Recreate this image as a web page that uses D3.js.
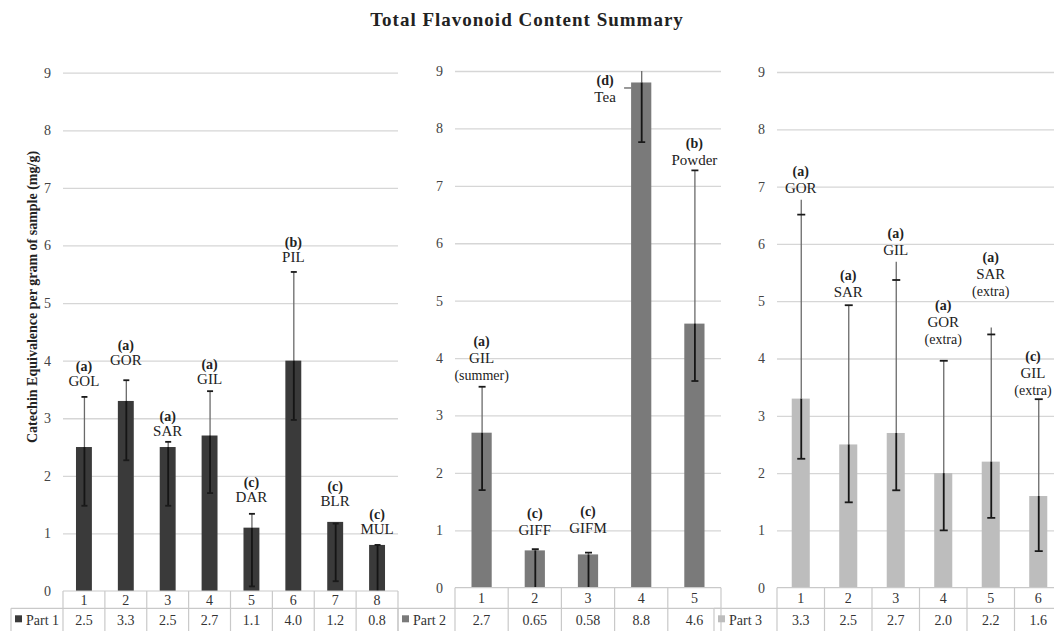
<!DOCTYPE html>
<html>
<head>
<meta charset="utf-8">
<script src="https://cdn.jsdelivr.net/npm/d3@7"></script>
<style>
  html, body { margin: 0; padding: 0; background: #fff; }
  svg { display: block; font-family: "Liberation Serif", "DejaVu Serif", serif; }
</style>
</head>
<body>
<svg id="chart" width="1054" height="631"></svg>
<script>
// ---- data -------------------------------------------------------------
const yTicks = [0, 1, 2, 3, 4, 5, 6, 7, 8, 9];

const part1Samples = ["1", "2", "3", "4", "5", "6", "7", "8"];
const part1Values  = [2.5, 3.3, 2.5, 2.7, 1.1, 4.0, 1.2, 0.8];
const part1ErrLow  = [1.48, 2.27, 1.48, 1.70, 0.08, 2.97, 0.17, 0.0];
const part1ErrHigh = [3.37, 3.66, 2.59, 3.47, 1.34, 5.54, 1.17, 0.8];
const part1Letters = ["(a)", "(a)", "(a)", "(a)", "(c)", "(b)", "(c)", "(c)"];
const part1Names   = [["GOL"], ["GOR"], ["SAR"], ["GIL"], ["DAR"], ["PIL"], ["BLR"], ["MUL"]];

const part2Samples = ["1", "2", "3", "4", "5"];
const part2Values  = [2.7, 0.65, 0.58, 8.8, 4.6];
const part2Labels  = ["2.7", "0.65", "0.58", "8.8", "4.6"];
const part2ErrLow  = [1.70, 0.0, 0.0, 7.76, 3.60];
const part2ErrHigh = [3.50, 0.67, 0.61, 9.8, 7.27];
const part2Letters = ["(a)", "(c)", "(c)", "(d)", "(b)"];
const part2Names   = [["GIL", "(summer)"], ["GIFF"], ["GIFM"], ["Tea"], ["Powder"]];

const part3Samples = ["1", "2", "3", "4", "5", "6"];
const part3Values  = [3.3, 2.5, 2.7, 2.0, 2.2, 1.6];
const part3ErrLow  = [2.25, 1.49, 1.70, 1.00, 1.22, 0.64];
const part3ErrHigh = [6.51, 4.93, 5.37, 3.96, 4.42, 3.29];
const part3Reach   = [6.77, 4.93, 5.69, 3.96, 4.54, 3.29];
const part3Letters = ["(a)", "(a)", "(a)", "(a)", "(a)", "(c)"];
const part3Names   = [["GOR"], ["SAR"], ["GIL"], ["GOR", "(extra)"], ["SAR", "(extra)"], ["GIL", "(extra)"]];

// ---- layout -----------------------------------------------------------
const panels = [
  {
    series: "Part 1", color: "#3a3a3a",
    samples: part1Samples, values: part1Values,
    labels: part1Values.map(v => v.toFixed(1)),
    low: part1ErrLow, high: part1ErrHigh, reach: part1ErrHigh,
    letters: part1Letters, names: part1Names,
    x0: 63, x1: 398, yTop: 72.7, yZero: 591, row1: 17.3, legendLeft: 11, tickRight: 51,
    lineH: 15, gaps: [10.5, 15.5, 6, 7.5, 12, 10, 16, 10.5], side: [], cap: 3
  },
  {
    series: "Part 2", color: "#7a7a7a",
    samples: part2Samples, values: part2Values, labels: part2Labels,
    low: part2ErrLow, high: part2ErrHigh, reach: part2ErrHigh,
    letters: part2Letters, names: part2Names,
    x0: 455, x1: 721, yTop: 71, yZero: 587.7, row1: 20.6, legendLeft: 398, tickRight: 443,
    lineH: 17, gaps: [7, 14, 20, 0, 5.5], side: [null, null, null, "left", null], cap: 3.5
  },
  {
    series: "Part 3", color: "#bdbdbd",
    samples: part3Samples, values: part3Values,
    labels: part3Values.map(v => v.toFixed(1)),
    low: part3ErrLow, high: part3ErrHigh, reach: part3Reach,
    letters: part3Letters, names: part3Names,
    x0: 777, x1: 1062, yTop: 72, yZero: 587.7, row1: 20.6, legendLeft: 714, tickRight: 765,
    lineH: 17, gaps: [6.5, 8, 7, 16.5, 32, 4.5], side: [], cap: 4
  }
];

const W = 1054, H = 631;
const svg = d3.select("#chart");
svg.append("rect").attr("width", W).attr("height", H).attr("fill", "#fff");

// chart title
svg.append("text")
  .attr("x", 527).attr("y", 26)
  .attr("text-anchor", "middle")
  .attr("font-size", 19).attr("font-weight", "bold").attr("fill", "#222")
  .attr("letter-spacing", 1)
  .text("Total Flavonoid Content Summary");

// y axis title (first panel only)
svg.append("text")
  .attr("transform", "translate(37,297) rotate(-90)")
  .attr("text-anchor", "middle")
  .attr("font-size", 14).attr("font-weight", "bold").attr("fill", "#222")
  .text("Catechin Equivalence per gram of sample (mg/g)");

const gridColor = "#d6d6d6";
const tableColor = "#c9c9c9";
const tableBottom = 640;

panels.forEach((p, pi) => {
  const g = svg.append("g");
  const y = d3.scaleLinear().domain([0, 9]).range([p.yZero, p.yTop]);
  const x = d3.scaleBand().domain(p.samples).range([p.x0, p.x1])
    .paddingInner(0.62).paddingOuter(0.31);
  const step = x.step();

  const clipId = "clip" + pi;
  svg.append("clipPath").attr("id", clipId)
    .append("rect").attr("x", p.x0 - 60).attr("y", p.yTop)
    .attr("width", p.x1 - p.x0 + 120).attr("height", p.yZero - p.yTop);

  // gridlines and tick labels via d3 axis
  const axis = d3.axisLeft(y).tickValues(yTicks).tickSize(-(p.x1 - p.x0)).tickPadding(p.x0 - p.tickRight);
  const ag = g.append("g").attr("transform", `translate(${p.x0},0)`).call(axis);
  ag.select(".domain").remove();
  ag.selectAll(".tick line").attr("stroke", gridColor).attr("stroke-width", 1.3)
    .filter(d => d === 0).remove();
  ag.selectAll(".tick text")
    .attr("font-family", "Liberation Serif, serif")
    .attr("font-size", 14).attr("fill", "#444");

  // bars
  g.selectAll("rect.bar").data(p.values).join("rect")
    .attr("class", "bar")
    .attr("x", (d, i) => x(p.samples[i]))
    .attr("y", d => y(d))
    .attr("width", x.bandwidth())
    .attr("height", d => y(0) - y(d))
    .attr("fill", p.color);

  // error bars
  const eg = g.append("g").attr("clip-path", `url(#${clipId})`);
  p.values.forEach((v, i) => {
    const cx = x(p.samples[i]) + x.bandwidth() / 2 + 0.5;
    const top = Math.max(p.high[i], p.reach[i]);
    // whisker above the bar
    if (top > v) {
      eg.append("line").attr("x1", cx).attr("x2", cx)
        .attr("y1", y(v)).attr("y2", y(top))
        .attr("stroke", "#6a6a6a").attr("stroke-width", 1.3);
    }
    // whisker inside the bar
    eg.append("line").attr("x1", cx).attr("x2", cx)
      .attr("y1", y(p.low[i])).attr("y2", y(Math.min(v, top)))
      .attr("stroke", "#151515").attr("stroke-width", 1.8);
    // caps
    [p.low[i], p.high[i]].forEach((c, k) => {
      if (k === 0 && p.low[i] <= 0) return;
      eg.append("line").attr("x1", cx - p.cap).attr("x2", cx + p.cap)
        .attr("y1", y(c)).attr("y2", y(c))
        .attr("stroke", "#1a1a1a").attr("stroke-width", 1.8);
    });
  });

  // significance letters and sample names
  p.values.forEach((v, i) => {
    const cx = x(p.samples[i]) + x.bandwidth() / 2;
    const lines = [p.letters[i]].concat(p.names[i]);
    let bx, by;
    if (p.side[i] === "left") {
      bx = x(p.samples[i]) - 26;
      by = y(v) + 20;
      g.append("line")
        .attr("x1", x(p.samples[i]) - 7).attr("x2", x(p.samples[i]))
        .attr("y1", y(v) + 5.5).attr("y2", y(v) + 5.5)
        .attr("stroke", "#555").attr("stroke-width", 1.2);
    } else {
      bx = cx;
      by = y(Math.max(p.reach[i], p.high[i], v)) - p.gaps[i];
    }
    const n = lines.length;
    const lg = g.append("g");
    lines.forEach((t, k) => {
      const isExtra = t.startsWith("(") && k > 0;
      lg.append("text")
        .attr("x", bx)
        .attr("y", by - (n - 1 - k) * p.lineH)
        .attr("text-anchor", "middle")
        .attr("font-size", k === 0 ? 14 : (isExtra ? 14 : 15))
        .attr("font-weight", k === 0 ? "bold" : "normal")
        .attr("fill", "#222")
        .text(t);
    });
    // keep the label block inside the drawing area
    const bb = lg.node().getBBox();
    const overflow = bb.x + bb.width - (W - 2);
    if (overflow > 0) lg.attr("transform", `translate(${-overflow},0)`);
  });

  // data table under the plot
  const tg = g.append("g");
  const r1 = p.yZero + p.row1;
  const hline = (x1, x2, yy) => tg.append("line").attr("x1", x1).attr("x2", x2)
    .attr("y1", yy).attr("y2", yy).attr("stroke", tableColor).attr("stroke-width", 1.2);
  const vline = (xx, y1, y2) => tg.append("line").attr("x1", xx).attr("x2", xx)
    .attr("y1", y1).attr("y2", y2).attr("stroke", tableColor).attr("stroke-width", 1.2);
  hline(p.x0, p.x1, p.yZero);
  hline(p.legendLeft, p.x1, r1);
  vline(p.legendLeft, r1, tableBottom);
  d3.range(p.samples.length + 1).forEach(k => vline(p.x0 + k * step, p.yZero, tableBottom));

  tg.selectAll("text.cat").data(p.samples).join("text")
    .attr("class", "cat")
    .attr("x", d => x(d) + x.bandwidth() / 2)
    .attr("y", p.yZero + p.row1 / 2 + 5)
    .attr("text-anchor", "middle").attr("font-size", 14).attr("fill", "#333")
    .text(d => d);
  tg.selectAll("text.val").data(p.labels).join("text")
    .attr("class", "val")
    .attr("x", (d, i) => x(p.samples[i]) + x.bandwidth() / 2)
    .attr("y", r1 + 17)
    .attr("text-anchor", "middle").attr("font-size", 14).attr("fill", "#333")
    .text(d => d);

  // legend key in the table's first column
  tg.append("rect").attr("x", p.legendLeft + 4).attr("y", r1 + 7)
    .attr("width", 7).attr("height", 7).attr("fill", p.color);
  tg.append("text").attr("x", p.legendLeft + 15).attr("y", r1 + 17)
    .attr("font-size", 14).attr("fill", "#333").text(p.series);
});
</script>
</body>
</html>
